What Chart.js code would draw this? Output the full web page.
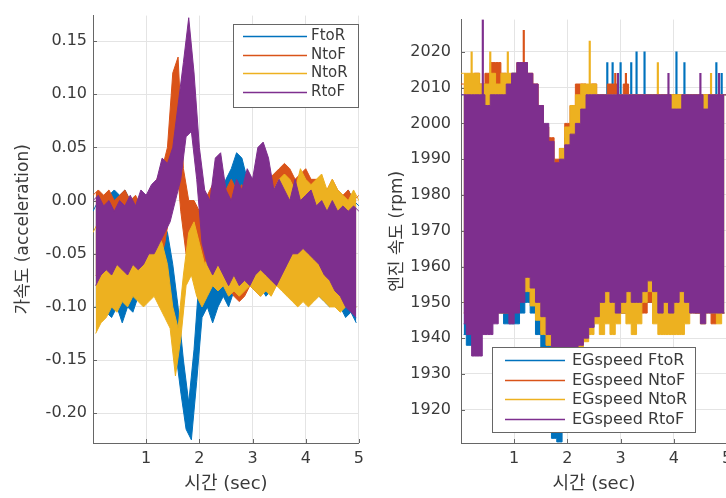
<!DOCTYPE html>
<html>
<head>
<meta charset="utf-8">
<script src="https://cdn.jsdelivr.net/npm/chart.js@4.4.1/dist/chart.umd.min.js"></script>
<style>
  html, body { margin: 0; padding: 0; background: #fff; overflow: hidden; width: 726px; height: 498px; }
  #accChart { position: absolute; left: 0; top: 0; }
  #rpmChart { position: absolute; left: 370px; top: 0; }
</style>
</head>
<body>
<canvas id="accChart" width="370" height="498"></canvas>
<canvas id="rpmChart" width="370" height="498"></canvas>
<script>
// spacing of the readings in sec: peaks at t = 0, 0.1 ... 5, troughs half a step later
var STEP = 0.1;

var seriesNames = ['FtoR', 'NtoF', 'NtoR', 'RtoF'];
var seriesColors = ['#0072bd', '#d95319', '#edb120', '#7e2f8e'];

var timeTicks = [1, 2, 3, 4, 5];
var accTicks = [-0.20, -0.15, -0.10, -0.05, 0.00, 0.05, 0.10, 0.15];
var rpmTicks = [1920, 1930, 1940, 1950, 1960, 1970, 1980, 1990, 2000, 2010, 2020];

// acceleration (left plot) - upper edge of the signal
var accFtoRHi = [-0.01, 0.0, -0.005, 0.005, 0.01, 0.005, 0.01, 0.0, -0.005, 0.0,
  -0.01, -0.005, -0.01, -0.02, -0.03, -0.06, -0.10, -0.15, -0.19, -0.14,
  -0.07, -0.03, -0.02, 0.0, 0.01, 0.02, 0.03, 0.045, 0.04, 0.02,
  0.01, 0.0, 0.01, 0.0, -0.01, 0.0, -0.005, 0.0, 0.01, 0.0,
  -0.01, 0.0, 0.005, 0.0, 0.01, 0.0, 0.005, 0.0, 0.01, 0.0, -0.005];
var accNtoFHi = [0.005, 0.01, 0.005, 0.01, 0.0, 0.005, 0.01, 0.0, 0.005, -0.005,
  0.0, 0.01, 0.02, 0.03, 0.05, 0.12, 0.135, 0.03, 0.0, 0.0,
  -0.01, 0.0, 0.01, 0.02, 0.03, 0.01, 0.02, 0.01, 0.015, 0.0,
  0.01, 0.02, 0.01, 0.02, 0.025, 0.03, 0.035, 0.03, 0.02, 0.025,
  0.03, 0.02, 0.02, 0.015, 0.01, 0.02, 0.01, 0.005, 0.01, 0.0, 0.005];
var accNtoRHi = [-0.03, -0.02, -0.03, -0.025, -0.035, -0.03, -0.02, -0.03, -0.025, -0.03,
  -0.025, -0.02, -0.03, -0.04, -0.06, -0.10, -0.12, -0.07, -0.03, -0.02,
  -0.04, -0.06, -0.05, -0.03, -0.02, -0.03, -0.025, -0.02, -0.01, -0.015,
  -0.01, 0.0, -0.005, 0.0, 0.01, 0.02, 0.025, 0.02, 0.01, 0.03,
  0.02, 0.015, 0.02, 0.025, 0.01, 0.02, 0.01, 0.005, 0.0, 0.01, 0.0];
var accRtoFHi = [0.0, 0.005, -0.005, 0.0, -0.01, 0.0, -0.005, 0.005, -0.005, 0.01,
  0.005, 0.015, 0.02, 0.04, 0.035, 0.05, 0.09, 0.13, 0.172, 0.12,
  0.05, 0.01, 0.0, 0.04, 0.045, 0.01, 0.0, 0.02, 0.01, 0.03,
  0.02, 0.05, 0.055, 0.04, 0.01, 0.02, 0.01, 0.0, 0.02, 0.0,
  0.005, 0.01, -0.005, 0.0, -0.01, 0.0, -0.01, -0.005, -0.01, -0.005, -0.01];

// acceleration - lower edge
var accFtoRLo = [-0.10, -0.11, -0.105, -0.11, -0.10, -0.115, -0.10, -0.105, -0.09, -0.095,
  -0.08, -0.085, -0.09, -0.10, -0.11, -0.14, -0.18, -0.215, -0.225, -0.17,
  -0.11, -0.10, -0.115, -0.10, -0.09, -0.10, -0.085, -0.08, -0.075, -0.08,
  -0.085, -0.08, -0.09, -0.085, -0.08, -0.075, -0.07, -0.07, -0.075, -0.08,
  -0.085, -0.08, -0.09, -0.095, -0.10, -0.095, -0.10, -0.11, -0.105, -0.115];
var accNtoFLo = [-0.07, -0.075, -0.08, -0.07, -0.075, -0.08, -0.085, -0.08, -0.09, -0.085,
  -0.08, -0.07, -0.06, -0.04, -0.01, 0.05, -0.01, -0.05, -0.04, -0.05,
  -0.06, -0.07, -0.08, -0.075, -0.07, -0.08, -0.09, -0.095, -0.09, -0.08,
  -0.085, -0.09, -0.08, -0.085, -0.08, -0.075, -0.08, -0.07, -0.075, -0.08,
  -0.085, -0.08, -0.075, -0.07, -0.08, -0.085, -0.09, -0.10, -0.095, -0.10];
var accNtoRLo = [-0.125, -0.115, -0.11, -0.10, -0.105, -0.095, -0.10, -0.09, -0.095, -0.10,
  -0.095, -0.09, -0.10, -0.11, -0.12, -0.165, -0.13, -0.08, -0.07, -0.09,
  -0.10, -0.09, -0.08, -0.085, -0.08, -0.09, -0.085, -0.09, -0.085, -0.08,
  -0.085, -0.09, -0.085, -0.09, -0.08, -0.085, -0.09, -0.095, -0.10, -0.095,
  -0.10, -0.095, -0.09, -0.095, -0.10, -0.10, -0.105, -0.10, -0.095, -0.10];
var accRtoFLo = [-0.08, -0.07, -0.065, -0.07, -0.06, -0.065, -0.07, -0.06, -0.065, -0.06,
  -0.05, -0.05, -0.04, -0.03, -0.02, 0.0, 0.02, 0.06, 0.065, 0.02,
  -0.04, -0.06, -0.07, -0.06, -0.07, -0.08, -0.07, -0.08, -0.075, -0.08,
  -0.07, -0.065, -0.07, -0.075, -0.08, -0.07, -0.06, -0.05, -0.05, -0.045,
  -0.05, -0.055, -0.06, -0.07, -0.075, -0.085, -0.09, -0.10, -0.105, -0.11];

// engine speed rpm (right plot) - upper plateau
var rpmFtoRHi = [2008, 2008, 2008, 2008, 2008, 2008, 2008, 2008, 2008, 2011,
  2014, 2014, 2011, 2008, 2005, 1999, 1996, 1990, 1987, 1990,
  1996, 1999, 2002, 2005, 2008, 2008, 2008, 2008, 2008, 2008,
  2008, 2008, 2008, 2008, 2008, 2008, 2008, 2008, 2008, 2008,
  2008, 2008, 2008, 2008, 2008, 2008, 2008, 2008, 2008, 2008, 2008];
var rpmNtoFHi = [2011, 2011, 2011, 2014, 2011, 2014, 2017, 2017, 2014, 2011,
  2014, 2017, 2017, 2014, 2011, 2005, 1999, 1996, 1990, 1993,
  2000, 2005, 2011, 2011, 2008, 2011, 2008, 2008, 2011, 2011,
  2008, 2011, 2008, 2008, 2008, 2008, 2008, 2008, 2008, 2008,
  2008, 2008, 2008, 2008, 2008, 2008, 2008, 2008, 2008, 2008, 2008];
var rpmNtoRHi = [2014, 2014, 2014, 2014, 2011, 2011, 2014, 2011, 2014, 2014,
  2011, 2011, 2008, 2005, 2002, 1996, 1993, 1990, 1988, 1993,
  1999, 2005, 2008, 2011, 2011, 2011, 2008, 2008, 2008, 2008,
  2008, 2008, 2008, 2008, 2008, 2008, 2008, 2008, 2008, 2008,
  2008, 2008, 2008, 2008, 2008, 2008, 2008, 2008, 2008, 2008, 2008];
var rpmRtoFHi = [2008, 2008, 2008, 2008, 2008, 2005, 2008, 2008, 2008, 2011,
  2014, 2017, 2017, 2014, 2011, 2005, 2000, 1995, 1989, 1990,
  1994, 1997, 2000, 2004, 2008, 2008, 2008, 2008, 2008, 2008,
  2008, 2008, 2008, 2008, 2008, 2008, 2008, 2008, 2008, 2008,
  2004, 2004, 2008, 2008, 2008, 2008, 2004, 2008, 2008, 2008, 2008];

// engine speed - lower edge
var rpmFtoRLo = [1941, 1938, 1941, 1941, 1944, 1944, 1947, 1947, 1944, 1944,
  1944, 1947, 1950, 1947, 1941, 1935, 1925, 1912, 1911, 1920,
  1932, 1936, 1938, 1941, 1943, 1947, 1947, 1950, 1947, 1950,
  1947, 1950, 1950, 1947, 1950, 1950, 1947, 1950, 1950, 1947,
  1950, 1947, 1950, 1950, 1947, 1947, 1950, 1947, 1950, 1947];
var rpmNtoFLo = [1947, 1947, 1944, 1947, 1947, 1950, 1947, 1950, 1947, 1950,
  1953, 1957, 1954, 1950, 1946, 1942, 1938, 1936, 1935, 1935,
  1936, 1937, 1939, 1941, 1944, 1947, 1947, 1950, 1947, 1950,
  1947, 1950, 1947, 1950, 1947, 1950, 1950, 1947, 1950, 1947,
  1944, 1947, 1947, 1950, 1947, 1947, 1950, 1944, 1947, 1947];
var rpmNtoRLo = [1950, 1947, 1947, 1944, 1944, 1947, 1947, 1947, 1950, 1950,
  1950, 1956, 1953, 1949, 1945, 1941, 1938, 1936, 1933, 1933,
  1935, 1936, 1937, 1939, 1941, 1944, 1941, 1944, 1941, 1944,
  1947, 1944, 1941, 1944, 1950, 1953, 1944, 1941, 1941, 1941,
  1941, 1941, 1944, 1947, 1947, 1944, 1947, 1947, 1944, 1947];
var rpmRtoFLo = [1944, 1941, 1935, 1935, 1941, 1941, 1944, 1947, 1947, 1944,
  1947, 1950, 1957, 1954, 1950, 1946, 1941, 1937, 1935, 1935,
  1935, 1936, 1938, 1940, 1943, 1946, 1950, 1953, 1950, 1947,
  1950, 1953, 1950, 1950, 1953, 1956, 1953, 1947, 1950, 1947,
  1950, 1953, 1950, 1947, 1947, 1944, 1947, 1947, 1947, 1947];

// engine speed - single samples sticking out above the plateau
var rpmFtoRSpikeT = [2.75, 2.85, 3.0, 3.2, 3.3, 3.45, 4.05, 4.2, 4.8, 4.9];
var rpmFtoRSpikeV = [2017, 2017, 2017, 2017, 2020, 2020, 2020, 2017, 2017, 2014];
var rpmNtoFSpikeT = [1.18, 2.9, 3.1];
var rpmNtoFSpikeV = [2026, 2014, 2014];
var rpmNtoRSpikeT = [0.2, 0.55, 0.88, 2.42, 3.7, 4.7];
var rpmNtoRSpikeV = [2020, 2020, 2020, 2023, 2017, 2014];
var rpmRtoFSpikeT = [0.41, 2.95, 3.9, 4.5, 4.85];
var rpmRtoFSpikeV = [2029, 2014, 2014, 2014, 2014];

var FONT = "'DejaVu Sans', 'Noto Sans CJK KR', sans-serif";
var TEXT = '#3a3a3a';
var AXIS = '#666666';
Chart.defaults.font.family = FONT;

// a dense signal drawn as the band between its upper and lower edge
function bandDatasets(his, los, width, stepped) {
  var sets = [];
  his.forEach(function (hi, k) {
    var common = {
      borderColor: seriesColors[k],
      backgroundColor: seriesColors[k],
      borderWidth: width,
      borderJoinStyle: 'bevel',
      pointRadius: 0,
      tension: 0,
      stepped: stepped,
      order: 4 - k  // RtoF drawn last, on top
    };
    sets.push(Object.assign({
      data: hi.map(function (v, i) { return { x: i * STEP, y: v }; }),
      fill: false
    }, common));
    sets.push(Object.assign({
      data: los[k].map(function (v, i) { return { x: (i + 0.5) * STEP, y: v }; }),
      fill: '-1'
    }, common));
  });
  return sets;
}

function spikeDatasets(times, values, base) {
  return times.map(function (ts, k) {
    return {
      type: 'bar',
      data: ts.map(function (t, i) { return { x: t, y: [base, values[k][i]] }; }),
      backgroundColor: seriesColors[k],
      barThickness: 1.5,
      grouped: false,
      order: 4 - k
    };
  });
}

// matlab style tick marks pointing into the plot
var innerTicks = {
  id: 'innerTicks',
  beforeDatasetsDraw: function (chart) {
    var ctx = chart.ctx, a = chart.chartArea, xs = chart.scales.x, ys = chart.scales.y;
    ctx.save();
    ctx.strokeStyle = AXIS;
    ctx.lineWidth = 1;
    ctx.beginPath();
    xs.ticks.forEach(function (t) {
      var px = Math.round(xs.getPixelForValue(t.value)) + 0.5;
      ctx.moveTo(px, a.bottom);
      ctx.lineTo(px, a.bottom - 4);
    });
    ys.ticks.forEach(function (t) {
      var py = Math.round(ys.getPixelForValue(t.value)) + 0.5;
      ctx.moveTo(a.left, py);
      ctx.lineTo(a.left + 4, py);
    });
    ctx.stroke();
    ctx.restore();
  }
};

// boxed legend placed inside the axes
var boxLegend = {
  id: 'boxLegend',
  afterDraw: function (chart, args, o) {
    var ctx = chart.ctx;
    ctx.save();
    ctx.fillStyle = '#fff';
    ctx.fillRect(o.x, o.y, o.w, o.h);
    ctx.strokeStyle = AXIS;
    ctx.lineWidth = 1;
    ctx.strokeRect(o.x + 0.5, o.y + 0.5, o.w, o.h);
    ctx.font = o.size + 'px ' + FONT;
    ctx.textBaseline = 'middle';
    seriesNames.forEach(function (name, i) {
      var cy = Math.round(o.y + o.first + i * o.gap) + 0.5;
      ctx.strokeStyle = seriesColors[i];
      ctx.lineWidth = 1.3;
      ctx.beginPath();
      ctx.moveTo(o.lineX0, cy);
      ctx.lineTo(o.lineX1, cy);
      ctx.stroke();
      ctx.fillStyle = TEXT;
      ctx.fillText(o.prefix + name, o.textX, cy);
    });
    ctx.restore();
  }
};

function makeOptions(yMin, yMax, yTicks, yTitle, fmt, yWidth, tickPad, titlePad, padRight, legend) {
  return {
    responsive: false,
    animation: false,
    events: [],
    layout: { padding: { top: 12, right: padRight, left: 0, bottom: 0 } },
    scales: {
      x: {
        type: 'linear', min: 0, max: 5, offset: false,
        afterBuildTicks: function (s) { s.ticks = timeTicks.map(function (v) { return { value: v }; }); },
        afterFit: function (s) { s.height = 55; },
        grid: { color: '#e4e4e4', drawTicks: false, offset: false },
        border: { color: AXIS, width: 1 },
        ticks: { color: TEXT, font: { size: 16 }, padding: 6, maxRotation: 0, autoSkip: false },
        title: { display: true, text: '시간 (sec)', color: TEXT, font: { size: 18 }, padding: { top: 0, bottom: 3 } }
      },
      y: {
        type: 'linear', min: yMin, max: yMax, beginAtZero: false,
        afterBuildTicks: function (s) { s.ticks = yTicks.map(function (v) { return { value: v }; }); },
        afterFit: function (s) { s.width = yWidth; },
        grid: { color: '#e4e4e4', drawTicks: false },
        border: { color: AXIS, width: 1 },
        ticks: { color: TEXT, font: { size: 16 }, padding: tickPad, autoSkip: false, callback: fmt },
        title: { display: true, text: yTitle, color: TEXT, font: { size: 17 }, padding: { top: titlePad, bottom: 0 } }
      }
    },
    plugins: {
      legend: { display: false },
      tooltip: { enabled: false },
      boxLegend: legend
    }
  };
}

new Chart(document.getElementById('accChart'), {
  type: 'line',
  data: {
    datasets: bandDatasets([accFtoRHi, accNtoFHi, accNtoRHi, accRtoFHi],
      [accFtoRLo, accNtoFLo, accNtoRLo, accRtoFLo], 1, false)
  },
  options: makeOptions(-0.228, 0.174, accTicks, '가속도 (acceleration)',
    function (v) { return v.toFixed(2); }, 93, 6, 13, 10,
    { x: 233, y: 24, w: 125, h: 83, first: 12, gap: 18.7, lineX0: 243, lineX1: 307, textX: 311, size: 15, prefix: '' }),
  plugins: [innerTicks, boxLegend]
});

new Chart(document.getElementById('rpmChart'), {
  type: 'line',
  data: {
    datasets: bandDatasets([rpmFtoRHi, rpmNtoFHi, rpmNtoRHi, rpmRtoFHi],
      [rpmFtoRLo, rpmNtoFLo, rpmNtoRLo, rpmRtoFLo], 1, 'middle').concat(
      spikeDatasets([rpmFtoRSpikeT, rpmNtoFSpikeT, rpmNtoRSpikeT, rpmRtoFSpikeT],
        [rpmFtoRSpikeV, rpmNtoFSpikeV, rpmNtoRSpikeV, rpmRtoFSpikeV], 1995))
  },
  options: makeOptions(1910.7, 2029, rpmTicks, '엔진 속도 (rpm)',
    function (v) { return String(v); }, 91, 10, 17, 13,
    { x: 122, y: 347, w: 203, h: 85, first: 13, gap: 19.5, lineX0: 135, lineX1: 195, textX: 202, size: 16, prefix: 'EGspeed ' }),
  plugins: [innerTicks, boxLegend]
});
</script>
</body>
</html>
